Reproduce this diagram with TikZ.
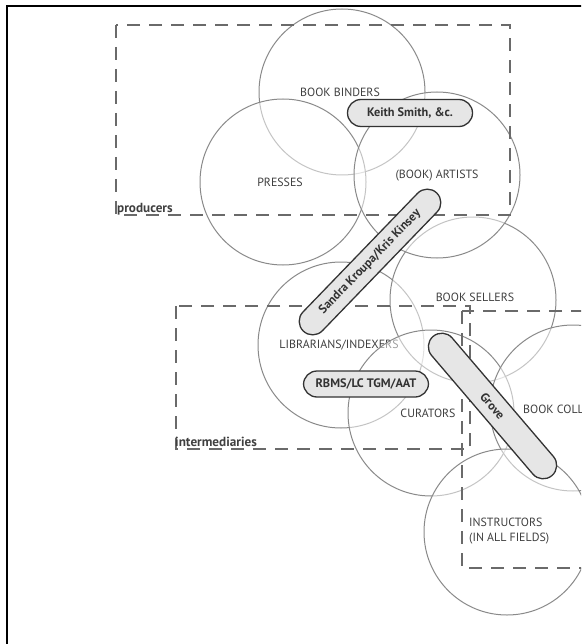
\documentclass[tikz,border=0pt]{standalone}
\usepackage{fontspec}
\setmainfont{PT Sans}
\definecolor{circgray}{HTML}{8A8A8A}
\definecolor{dashgray}{HTML}{6A6A6A}
\definecolor{txtgray}{HTML}{404040}
\definecolor{pillfill}{HTML}{E6E6E6}
\definecolor{pilldraw}{HTML}{333333}
\begin{document}
\begin{tikzpicture}[x=1pt,y=-1pt,
  circ/.style={circle, draw=circgray, line width=1pt, fill=white, fill opacity=0.5, minimum size=166pt, inner sep=0pt},
  lbl/.style={text=txtgray, font=\fontsize{11.9}{15}\selectfont, inner sep=0pt},
  grp/.style={draw=dashgray, line width=1.3pt, dash pattern=on 13pt off 9pt},
  grplbl/.style={text=txtgray, font=\fontsize{13.2}{15}\selectfont\bfseries, inner sep=0pt, anchor=base west},
  pill/.style={draw=pilldraw, line width=1.3pt, fill=pillfill, rounded corners=13.5pt, minimum height=27pt, inner sep=0pt, text=pilldraw, font=\fontsize{12.3}{14}\selectfont\bfseries},
  frame/.style={draw=black, line width=2pt}
]
\useasboundingbox (0,0) rectangle (581,644);
\clip (0,0) rectangle (581,644);
% frame
\coordinate (f0) at (6.5,6.5);
\coordinate (f1) at (590,6.5);
\coordinate (f2) at (6.5,650);
\draw[frame] (f1) -- (f0) -- (f2);
% circles
\node[circ] (binders) at (342,92) {};
\node[lbl] (tbinders) at (340,92) {BOOK BINDERS};
\node[circ] (libr) at (341,345) {};
\node[lbl] (tlibr) at (339,345) {LIBRARIANS/INDEXERS};
\node[circ] (sellers) at (473,300) {};
\node[lbl] (tsellers) at (475,297) {BOOK SELLERS};
\node[circ] (presses) at (283,182) {};
\node[lbl] (tpresses) at (280,182) {PRESSES};
\node[circ] (artists) at (437,175) {};
\node[lbl] (tartists) at (437,176) {(BOOK) ARTISTS};
\node[circ] (curators) at (431,413) {};
\node[lbl] (tcurators) at (428,413) {CURATORS};
\node[circ] (coll) at (573,408) {};
\node[lbl, anchor=west] (tcoll) at (523,409) {BOOK COLLECTORS};
\node[circ] (instr) at (507,532) {};
\node[lbl, anchor=west, align=left] (tinstr) at (469,531.5) {INSTRUCTORS\\(IN ALL FIELDS)};
% group boxes
\coordinate (p0) at (116,25);
\coordinate (p1) at (510,215);
\draw[grp] (p0) rectangle (p1);
\node[grplbl] (tprod) at (117,212.5) {producers};
\coordinate (i0) at (176,306);
\coordinate (i1) at (470,449);
\draw[grp] (i0) rectangle (i1);
\node[grplbl] (tinter) at (175,446.5) {intermediaries};
\coordinate (u0) at (462,311);
\coordinate (u1) at (640,568);
\draw[grp] (u0) rectangle (u1);
% pills
\node[pill, minimum width=125pt] (keith) at (410,113) {Keith Smith, \&c.};
\node[pill, minimum width=192pt, rotate=46] (sandra) at (370,262) {Sandra Kroupa/Kris Kinsey};
\node[pill, minimum width=125pt, minimum height=26pt] (rbms) at (366,384) {RBMS/LC TGM/AAT};
\node[pill, minimum width=183pt, rotate=-49.5] (grove) at (492.5,406) {Grove};
\end{tikzpicture}
\end{document}
